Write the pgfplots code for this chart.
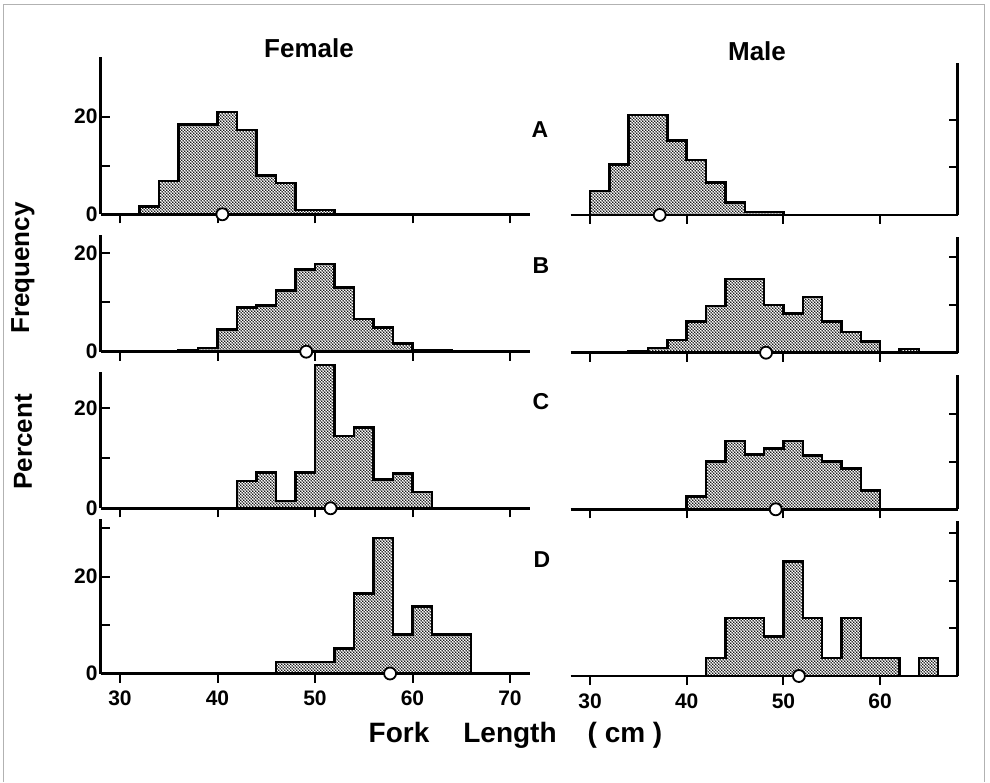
\documentclass[border=0pt]{standalone}
\usepackage{pgfplots}
\pgfplotsset{compat=1.18}
\usetikzlibrary{patterns}
\usepackage{fontspec}
\setmainfont{Liberation Sans}

\pgfdeclarepatternformonly{stipple}{\pgfqpoint{0pt}{0pt}}{\pgfqpoint{3.4pt}{3.4pt}}{\pgfqpoint{3.4pt}{3.4pt}}{%
  \pgfpathcircle{\pgfqpoint{0.85pt}{0.85pt}}{0.95pt}%
  \pgfpathcircle{\pgfqpoint{2.55pt}{2.55pt}}{0.95pt}%
  \pgfusepath{fill}%
}

\pgfplotsset{
  panel/.style={
    scale only axis, clip=false,
    axis x line*=bottom, xmin=28, ymin=0,
    axis line style={line width=2.6pt},
    tick align=inside, major tick length=9pt,
    every tick/.style={line width=2pt, black},
    xtick style={yshift=-9pt},
    /pgf/number format/assume math mode=true,
    tick label style={font=\fontsize{21}{24}\selectfont\bfseries},
    x tick label style={yshift=-14pt},
    xticklabels=\empty,
  },
  fpanel/.style={panel, axis y line*=left, xmax=72, width=429pt, xtick={30,40,50,60,70},
    y tick label style={xshift=0.5pt}},
  mpanel/.style={panel, axis y line*=right, xmax=68, width=386.8pt, xtick={30,40,50,60}, yticklabels=\empty},
  hist/.style={const plot mark left, pattern=stipple, draw=black, line width=2.5pt, line join=miter},
  mean/.style={only marks, mark=*, mark size=6pt, mark options={fill=white, draw=black, line width=1.8pt}},
}

\begin{document}
\begin{tikzpicture}
\path[use as bounding box] (0pt,0pt) rectangle (990pt,782pt);
\draw[gray!60, line width=0.8pt] (3pt,0pt) -- (3pt,778pt) -- (984pt,778pt) -- (984pt,0pt);

% ---------- Female ----------
\begin{axis}[fpanel, at={(100.5pt,567.7pt)}, anchor=south west, height=157.6pt, ymax=32.3,
  ytick={0,10,20}, yticklabels={0,,20}]
\addplot[hist] coordinates {(32,0)(32,1.6)(34,6.8)(36,18.4)(38,18.4)(40,21.0)(42,17.3)(44,7.9)(46,6.4)(48,0.9)(50,0.9)(52,0.9)} \closedcycle;
\addplot[mean] coordinates {(40.5,0)};
\end{axis}

\begin{axis}[fpanel, at={(100.5pt,430.3pt)}, anchor=south west, height=116.6pt, ymax=23.7,
  ytick={0,10,20}, yticklabels={0,,20}]
\addplot[hist] coordinates {(36,0)(36,0.3)(38,0.8)(40,4.5)(42,9.0)(44,9.35)(46,12.4)(48,16.7)(50,17.8)(52,13.0)(54,6.6)(56,4.9)(58,1.7)(60,0.3)(62,0.3)(64,0.3)} \closedcycle;
\addplot[mean] coordinates {(49.1,0)};
\end{axis}

\begin{axis}[fpanel, at={(100.5pt,273.7pt)}, anchor=south west, height=136.5pt, ymax=27.3,
  ytick={0,10,20}, yticklabels={0,,20}]
\addplot[hist] coordinates {(42,0)(42,5.5)(44,7.2)(46,1.5)(48,7.2)(50,28.7)(52,14.5)(54,16.2)(56,5.8)(58,7.0)(60,3.3)(62,3.3)} \closedcycle;
\addplot[mean] coordinates {(51.6,0)};
\end{axis}

\begin{axis}[fpanel, at={(100.5pt,108.5pt)}, anchor=south west, height=154.2pt, ymax=31.8,
  ytick={0,10,20,30}, yticklabels={0,,20,}, xticklabels={30,40,50,60,70}]
\addplot[hist] coordinates {(46,0)(46,2.4)(48,2.4)(50,2.4)(52,5.2)(54,16.5)(56,27.9)(58,8.0)(60,13.8)(62,8.0)(64,8.0)(66,8.0)} \closedcycle;
\addplot[mean] coordinates {(57.7,0)};
\end{axis}

% ---------- Male ----------
\begin{axis}[mpanel, at={(570.7pt,567pt)}, anchor=south west, height=152pt, ymax=32,
  ytick={10,20}]
\addplot[hist] coordinates {(30,0)(30,5.1)(32,10.6)(34,21.0)(36,21.0)(38,15.7)(40,11.6)(42,6.8)(44,2.6)(46,0.6)(48,0.6)(50,0.6)} \closedcycle;
\addplot[mean] coordinates {(37.2,0)};
\end{axis}

\begin{axis}[mpanel, at={(570.7pt,429.3pt)}, anchor=south west, height=115.9pt, ymax=24.3,
  ytick={10,20}]
\addplot[hist] coordinates {(34,0)(34,0.35)(36,1.0)(38,2.7)(40,6.5)(42,9.8)(44,15.4)(46,15.4)(48,10.0)(50,8.2)(52,11.7)(54,6.5)(56,4.3)(58,2.4)(60,0)(62,0.8)(64,0.8)} \closedcycle;
\addplot[mean] coordinates {(48.2,0)};
\end{axis}

\begin{axis}[mpanel, at={(570.7pt,272.7pt)}, anchor=south west, height=134.2pt, ymax=28.2,
  ytick={10,20}]
\addplot[hist] coordinates {(40,0)(40,2.7)(42,10.0)(44,14.3)(46,11.5)(48,12.8)(50,14.3)(52,11.3)(54,10.0)(56,8.6)(58,4.0)(60,4.0)} \closedcycle;
\addplot[mean] coordinates {(49.2,0)};
\end{axis}

\begin{axis}[mpanel, at={(570.7pt,106pt)}, anchor=south west, height=155pt, ymax=32.6,
  ytick={10,20,30}, xticklabels={30,40,50,60}]
\addplot[hist] coordinates {(42,0)(42,3.8)(44,12.2)(46,12.2)(48,8.3)(50,24.1)(52,12.2)(54,3.8)(56,12.2)(58,3.8)(60,3.8)(62,0)(64,3.8)(66,3.8)} \closedcycle;
\addplot[mean] coordinates {(51.6,0)};
\end{axis}

% ---------- Text ----------
\node[font=\fontsize{26}{30}\selectfont\bfseries] at (309pt,734pt) {Female};
\node[font=\fontsize{26}{30}\selectfont\bfseries] at (757pt,731pt) {Male};
\node[font=\fontsize{23}{26}\selectfont\bfseries] at (540pt,652pt) {A};
\node[font=\fontsize{23}{26}\selectfont\bfseries] at (541pt,516pt) {B};
\node[font=\fontsize{23}{26}\selectfont\bfseries] at (541pt,380pt) {C};
\node[font=\fontsize{23}{26}\selectfont\bfseries] at (542pt,222pt) {D};
\node[rotate=90, font=\fontsize{26}{28}\selectfont\bfseries] at (23pt,514pt) {Frequency};
\node[rotate=90, font=\fontsize{26}{28}\selectfont\bfseries] at (23pt,340pt) {Percent};
\node[anchor=base, font=\fontsize{28}{32}\selectfont\bfseries] at (399pt,40pt) {Fork};
\node[anchor=base, font=\fontsize{28}{32}\selectfont\bfseries] at (510pt,40pt) {Length};
\node[anchor=base, font=\fontsize{28}{32}\selectfont\bfseries] at (625pt,40pt) {( cm )};
\end{tikzpicture}
\end{document}
